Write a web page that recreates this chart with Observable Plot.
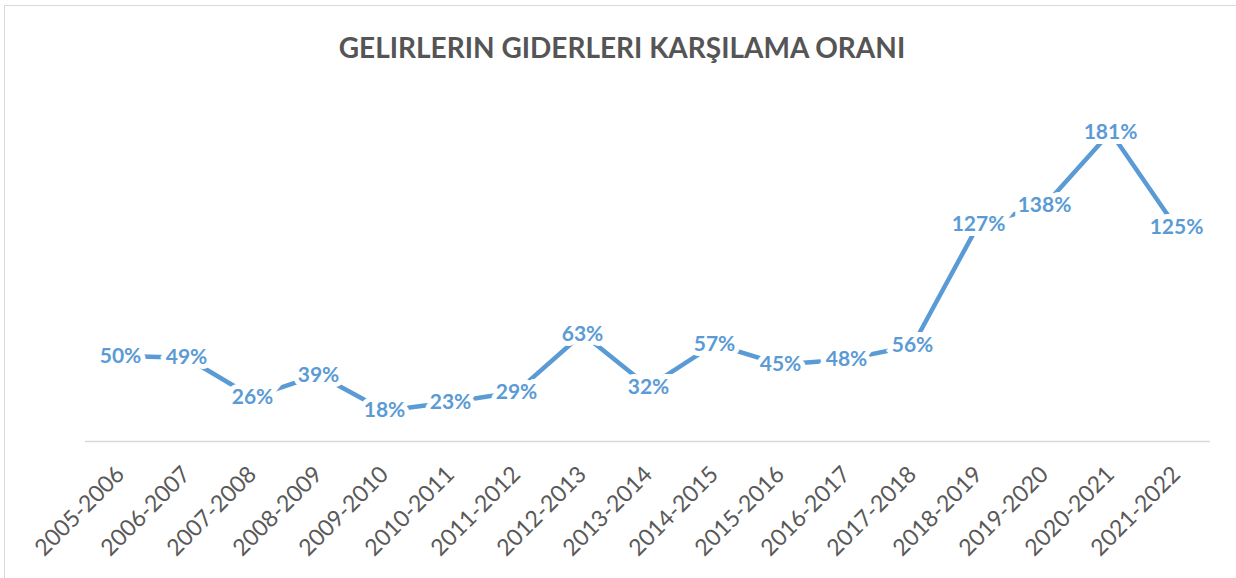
<!DOCTYPE html>
<html><head><meta charset="utf-8">
<script src="https://cdn.jsdelivr.net/npm/d3@7"></script>
<script src="https://cdn.jsdelivr.net/npm/@observablehq/plot@0.6"></script>
<style>
html,body{margin:0;padding:0;background:#fff}
body{width:1236px;height:578px;overflow:hidden;position:relative;font-family:Lato,"Open Sans",sans-serif}
#frame{position:absolute;left:4px;top:5px;width:1240px;height:580px;border-top:1.5px solid #d9d9d9;border-left:1.5px solid #d9d9d9;pointer-events:none}
#title{position:absolute;left:0;top:0;width:1236px;height:80px;box-sizing:border-box;padding-top:30px;text-align:center;padding-left:8px;font-weight:700;font-size:28px;color:#555;letter-spacing:0px}
#chart{position:absolute;left:0;top:80px}
</style></head>
<body>
<div id="frame"></div>
<div id="title">GELIRLERIN GIDERLERI KARŞILAMA ORANI</div>
<div id="chart"></div>
<script>
const years = ["2005-2006","2006-2007","2007-2008","2008-2009","2009-2010","2010-2011","2011-2012","2012-2013","2013-2014","2014-2015","2015-2016","2016-2017","2017-2018","2018-2019","2019-2020","2020-2021","2021-2022"];
const ratios = [50,49,26,39,18,23,29,63,32,57,45,48,56,127,138,181,125];

const data = years.map((y, i) => ({year: y, value: ratios[i]}));
const blue = "#5B9BD5";

const chart = Plot.plot({
  width: 1236,
  height: 498,
  marginLeft: 85,
  marginRight: 26,
  marginTop: 19,
  marginBottom: 137,
  style: {fontFamily: "Lato, sans-serif", background: "transparent", overflow: "visible"},
  x: {type: "point", domain: years, padding: 0.5},
  y: {domain: [0, 200], axis: null},
  marks: [
    Plot.ruleY([0], {stroke: "#d9d9d9", strokeWidth: 1.5}),
    Plot.axisX({tickSize: 0, tickPadding: 29, tickRotate: -45, fontSize: 23, fill: "#595959", label: null}),
    Plot.line(data, {x: "year", y: "value", stroke: blue, strokeWidth: 4.5}),
    Plot.text(data, {x: "year", y: "value", text: d => d.value + "%", fill: blue, fontWeight: 700, fontSize: 21, stroke: "white", strokeWidth: 10, strokeLinejoin: "miter"})
  ]
});
document.getElementById("chart").appendChild(chart);
</script>
</body></html>
